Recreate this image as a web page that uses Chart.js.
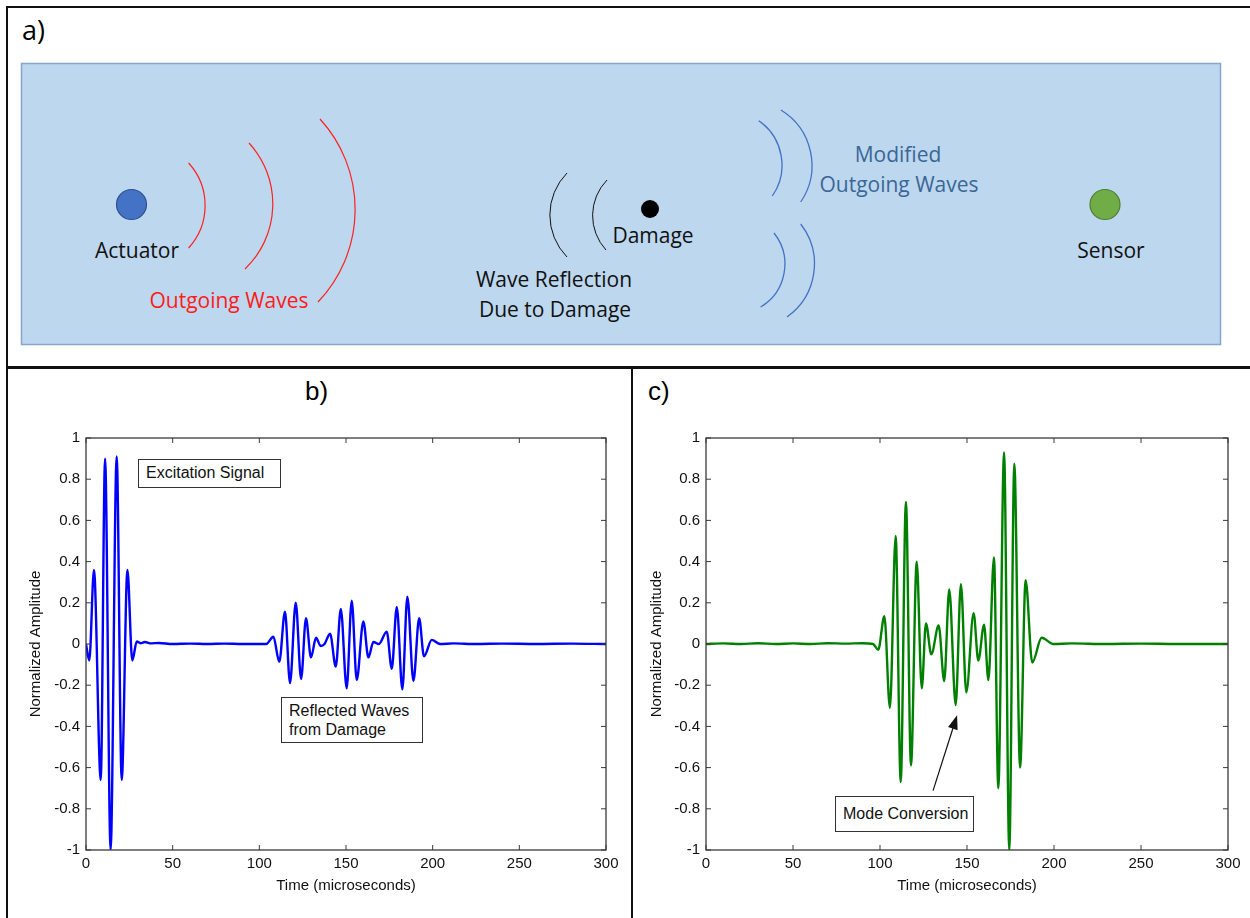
<!DOCTYPE html>
<html>
<head>
<meta charset="utf-8">
<script src="https://cdn.jsdelivr.net/npm/chart.js@4.4.1/dist/chart.umd.min.js"></script>
<style>
  html, body { margin: 0; padding: 0; background: #fff; }
  body { width: 1250px; height: 918px; position: relative; overflow: hidden;
         font-family: Arial, "Liberation Sans", sans-serif; }
  .rule { position: absolute; background: #111; }
  .panel-label { position: absolute; font-size: 26px; line-height: 26px; color: #000; }
  canvas { position: absolute; }
  .note { position: absolute; box-sizing: border-box; border: 1.5px solid #333; background: #fff;
          font-size: 16px; line-height: 19px; color: #111; padding-left: 7px; }
  svg text { font-family: "Open Sans", Lato, sans-serif; font-size: 21px; }
</style>
</head>
<body>

<div class="rule" style="left:6px; top:6px; width:1244px; height:2px;"></div>
<div class="rule" style="left:6px; top:6px; width:2px; height:912px;"></div>
<div class="rule" style="left:6px; top:366px; width:1244px; height:2.5px;"></div>
<div class="rule" style="left:631px; top:367px; width:2px; height:551px;"></div>

<!-- a) sketch of the plate -->
<svg width="1250" height="366" style="position:absolute; left:0; top:0;">
  <text x="22" y="40" style="font-size:27px;" fill="#000">a)</text>
  <rect x="21.5" y="63.5" width="1199" height="281" fill="#bdd7ee" stroke="#85a5cc" stroke-width="1.5"/>

  <circle cx="131.5" cy="204.5" r="15" fill="#4472c4" stroke="#2f528f" stroke-width="1.2"/>
  <text x="137" y="258" text-anchor="middle" fill="#111">Actuator</text>

  <g fill="none" stroke="#ff2020" stroke-width="1.2">
    <path d="M188.6 163 A63 63 0 0 1 188.6 248"/>
    <path d="M249 143 A90 90 0 0 1 245 269"/>
    <path d="M320 119 A134 134 0 0 1 318 302"/>
  </g>
  <text x="229" y="308" text-anchor="middle" fill="#ff1a1a">Outgoing Waves</text>

  <g fill="none" stroke="#111" stroke-width="1">
    <path d="M567 173 A60 60 0 0 0 567 257"/>
    <path d="M607 180 A51 51 0 0 0 606 250"/>
  </g>
  <circle cx="650" cy="209" r="9" fill="#000"/>
  <text x="653" y="243" text-anchor="middle" fill="#111">Damage</text>
  <text x="554" y="287" text-anchor="middle" fill="#111">Wave Reflection</text>
  <text x="555" y="317" text-anchor="middle" fill="#111">Due to Damage</text>

  <g fill="none" stroke="#4472c4" stroke-width="1.3">
    <path d="M758.7 120.7 A54 54 0 0 1 772.3 196"/>
    <path d="M780.9 110 A65 65 0 0 1 800.7 202"/>
    <path d="M774 233 A50 50 0 0 1 760.6 307"/>
    <path d="M800.7 224 A65 65 0 0 1 787 317"/>
  </g>
  <text x="898" y="162" text-anchor="middle" fill="#3a6795">Modified</text>
  <text x="899" y="192" text-anchor="middle" fill="#3a6795">Outgoing Waves</text>

  <circle cx="1105" cy="204.5" r="15" fill="#70ad47" stroke="#507e32" stroke-width="1.2"/>
  <text x="1111" y="258" text-anchor="middle" fill="#111">Sensor</text>
</svg>

<div class="panel-label" style="left:305px; top:378px;">b)</div>
<div class="panel-label" style="left:648px; top:378px;">c)</div>

<canvas id="chartB" width="616" height="498" style="left:10px; top:420px;"></canvas>
<canvas id="chartC" width="612" height="498" style="left:636px; top:420px;"></canvas>

<div class="note" style="left:138px; top:459px; width:143px; height:29px; line-height:26px;">Excitation Signal</div>
<div class="note" style="left:281px; top:697px; width:142px; height:46px; padding-top:3px;">Reflected Waves<br>from Damage</div>
<div class="note" style="left:835px; top:796px; width:139px; height:36px; line-height:33px;">Mode Conversion</div>

<script>
// tick labels
const timeTicks = [0, 50, 100, 150, 200, 250, 300];
const ampTicks = [-1, -0.8, -0.6, -0.4, -0.2, 0, 0.2, 0.4, 0.6, 0.8, 1];

// b) excitation burst + reflections, peaks
const timeB = [0, 1.9, 4.6, 8.5, 11.0, 14.2, 17.7, 20.6, 23.9, 26.7, 29.3, 31.5, 34, 37, 42, 50, 60, 70, 80, 90, 100, 104,
    108.1, 111.5, 114.8, 117.7, 121.0, 124.1, 126.9, 129.8, 132.7, 135.4, 137.6,
    140.8, 144.1, 147.0, 150.4, 153.3, 156.2, 160.0, 162.9, 165.8, 169.0,
    173.5, 176.4, 179.3, 182.5, 185.4, 188.9, 192.2, 195.0, 199.5, 204.3, 212, 225, 240, 260, 280, 300];
const ampB = [0, -0.08, 0.36, -0.66, 0.90, -1.0, 0.91, -0.66, 0.36, -0.08, 0.012, 0.004, 0.01, 0.003, 0.005, 0, 0.002, 0, 0.002, 0, 0, 0,
    0.035, -0.086, 0.157, -0.19, 0.20, -0.17, 0.125, -0.065, 0.03, -0.01, 0.0,
    0.05, -0.11, 0.17, -0.215, 0.21, -0.175, 0.11, -0.065, 0.01, 0.0,
    0.06, -0.12, 0.18, -0.22, 0.23, -0.18, 0.125, -0.06, 0.02, 0.0, 0.003, 0, 0.002, 0, 0.002, 0];

// c) signal at the sensor
const timeC = [0, 10, 20, 30, 40, 50, 60, 70, 80, 90, 96, 99.0,
    102.5, 105.7, 109.0, 111.9, 114.9, 117.8, 121.1, 124.0, 126.4, 129.5, 133.7,
    136.9, 139.8, 143.5, 146.5, 149.6, 153.8, 156.5, 159.8, 162.3,
    165.5, 168.0, 171.3, 174.3, 177.2, 180.5, 183.7, 187.5, 192.9, 199.6, 210, 230, 250, 270, 300];
const ampC = [0, 0.003, 0, 0.004, 0, 0.003, 0, 0.004, 0.002, 0.004, 0, -0.028,
    0.135, -0.31, 0.525, -0.67, 0.69, -0.59, 0.40, -0.215, 0.10, -0.05, 0.09,
    -0.18, 0.265, -0.296, 0.29, -0.235, 0.15, -0.08, 0.094, -0.175,
    0.42, -0.70, 0.93, -1.0, 0.875, -0.60, 0.31, -0.09, 0.03, 0.0, 0.003, 0, 0.002, 0, 0];

// "Mode Conversion" arrow, in data units
const arrowTail = { x: 130.5, y: -0.712 };
const arrowHead = { x: 144.3, y: -0.346 };

const TICK_FONT = { family: "Arial, 'Liberation Sans', sans-serif", size: 15 };

// box + inward ticks like matlab axes
const matlabAxes = {
    id: "matlabAxes",
    afterDatasetsDraw(chart) {
        const { ctx, chartArea: a, scales } = chart;
        ctx.save();
        ctx.strokeStyle = "#3a3a3a";
        ctx.lineWidth = 1.3;
        ctx.strokeRect(a.left, a.top, a.right - a.left, a.bottom - a.top);
        ctx.lineWidth = 1;
        ctx.beginPath();
        scales.x.ticks.forEach(t => {
            const px = scales.x.getPixelForValue(t.value);
            ctx.moveTo(px, a.bottom); ctx.lineTo(px, a.bottom - 5);
            ctx.moveTo(px, a.top); ctx.lineTo(px, a.top + 5);
        });
        scales.y.ticks.forEach(t => {
            const py = scales.y.getPixelForValue(t.value);
            ctx.moveTo(a.left, py); ctx.lineTo(a.left + 5, py);
            ctx.moveTo(a.right, py); ctx.lineTo(a.right - 5, py);
        });
        ctx.stroke();
        ctx.restore();
    }
};

const modeArrow = {
    id: "modeArrow",
    afterDraw(chart) {
        const { ctx, scales } = chart;
        const x0 = scales.x.getPixelForValue(arrowTail.x), y0 = scales.y.getPixelForValue(arrowTail.y);
        const x1 = scales.x.getPixelForValue(arrowHead.x), y1 = scales.y.getPixelForValue(arrowHead.y);
        const ang = Math.atan2(y1 - y0, x1 - x0);
        ctx.save();
        ctx.strokeStyle = "#111";
        ctx.fillStyle = "#111";
        ctx.lineWidth = 1.2;
        ctx.beginPath();
        ctx.moveTo(x0, y0);
        ctx.lineTo(x1 - 10 * Math.cos(ang), y1 - 10 * Math.sin(ang));
        ctx.stroke();
        ctx.beginPath();
        ctx.moveTo(x1, y1);
        ctx.lineTo(x1 - 14 * Math.cos(ang) + 5 * Math.sin(ang), y1 - 14 * Math.sin(ang) - 5 * Math.cos(ang));
        ctx.lineTo(x1 - 14 * Math.cos(ang) - 5 * Math.sin(ang), y1 - 14 * Math.sin(ang) + 5 * Math.cos(ang));
        ctx.closePath();
        ctx.fill();
        ctx.restore();
    }
};

function makeWaveChart(canvasId, times, amps, color, yWidth, yTitlePad, extraPlugins) {
    const ctx = document.getElementById(canvasId);
    return new Chart(ctx, {
        type: "line",
        data: {
            datasets: [{
                data: times.map((t, i) => ({ x: t, y: amps[i] })),
                borderColor: color,
                borderWidth: 2.4,
                pointRadius: 0,
                cubicInterpolationMode: "monotone",
                fill: false
            }]
        },
        options: {
            responsive: false,
            animation: false,
            devicePixelRatio: 1,
            layout: { padding: { top: 18, right: 20, left: 0, bottom: 0 } },
            plugins: { legend: { display: false }, tooltip: { enabled: false } },
            scales: {
                x: {
                    type: "linear",
                    min: 0, max: 300,
                    afterBuildTicks: s => { s.ticks = timeTicks.map(v => ({ value: v })); },
                    afterFit: s => { s.height = 68; },
                    grid: { display: false, drawTicks: false },
                    border: { display: false },
                    ticks: { font: TICK_FONT, color: "#111", padding: 5, maxRotation: 0, callback: v => String(v) },
                    title: { display: true, text: "Time (microseconds)", font: TICK_FONT, color: "#111",
                             padding: { top: 0, bottom: 23 } }
                },
                y: {
                    type: "linear",
                    min: -1, max: 1,
                    afterBuildTicks: s => { s.ticks = ampTicks.map(v => ({ value: v })); },
                    afterFit: s => { s.width = yWidth; },
                    grid: { display: false, drawTicks: false },
                    border: { display: false },
                    ticks: { font: TICK_FONT, color: "#111", padding: 6, callback: v => String(v) },
                    title: { display: true, text: "Normalized Amplitude", font: TICK_FONT, color: "#111",
                             padding: { top: yTitlePad, bottom: 0 } }
                }
            }
        },
        plugins: [matlabAxes].concat(extraPlugins)
    });
}

document.addEventListener("DOMContentLoaded", () => {
    makeWaveChart("chartB", timeB, ampB, "#0000ff", 76, 17, []);
    makeWaveChart("chartC", timeC, ampC, "#008000", 70, 12, [modeArrow]);
});
</script>
</body>
</html>
